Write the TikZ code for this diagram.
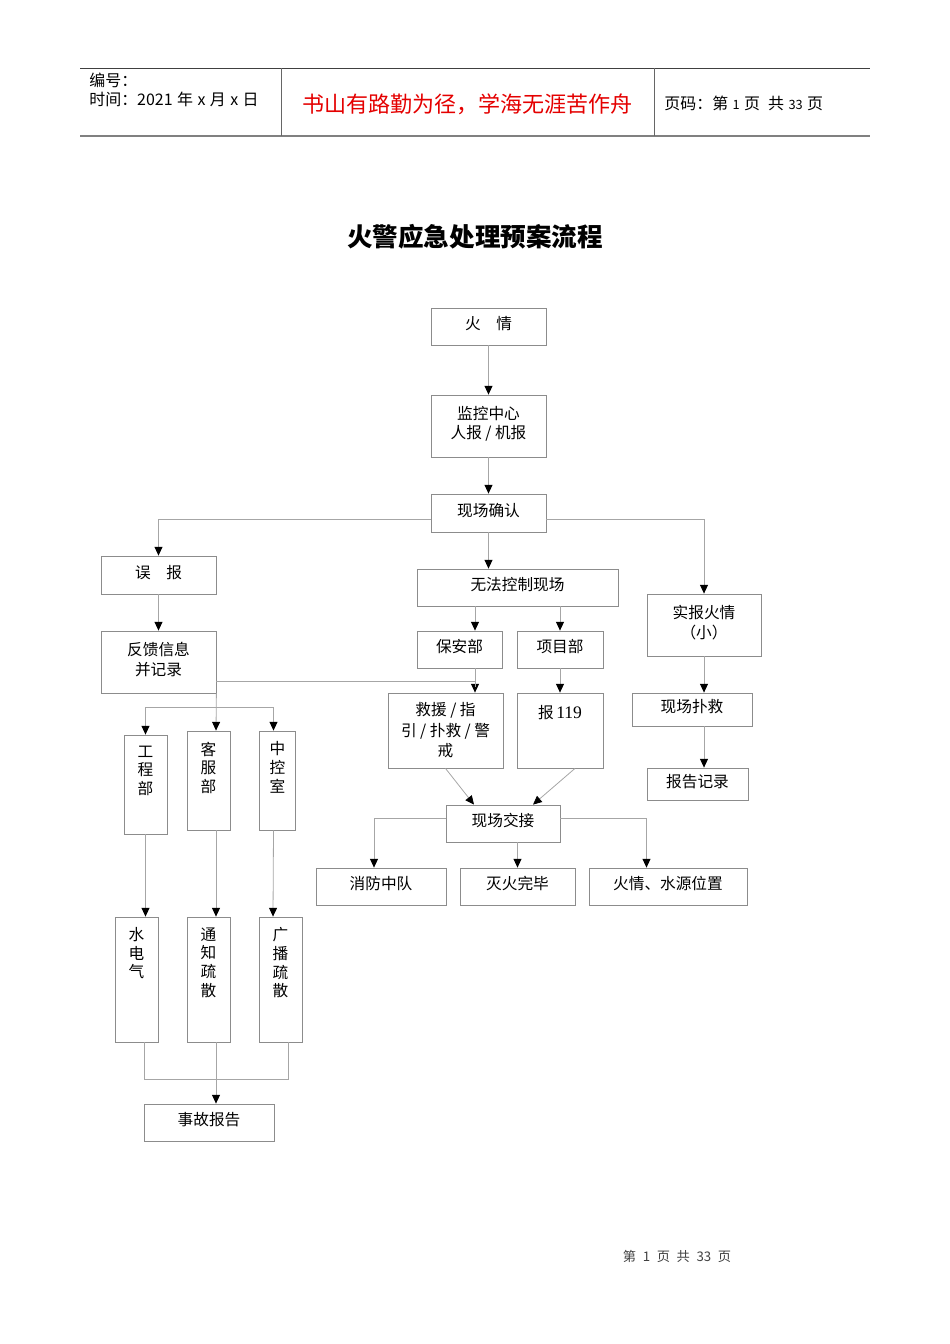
\documentclass[tikz,border=0pt]{standalone}
\usepackage{fontspec}
\setmainfont{Noto Sans CJK SC}
\newfontfamily\serifnum{Liberation Serif}
\usetikzlibrary{arrows.meta}
\definecolor{mottored}{RGB}{228,0,0}
\def\unitpx{0.626pt}

\begin{document}
\begin{tikzpicture}[x=\unitpx, y=-\unitpx,
    box/.style={draw=black!45, line width=0.5pt, align=center, inner sep=1pt,
        text depth=4pt, font=\fontsize{9.8}{12}\selectfont},
    sz/.style 2 args={minimum width=#1*\unitpx, minimum height=#2*\unitpx},
    vtext/.style={anchor=north, align=center, inner sep=0pt, yshift=-6.8pt,
        font=\fontsize{9.8}{11.6}\selectfont},
    conn/.style={draw=black!35, line width=0.5pt},
    arr/.style={conn, -{Triangle[color=black, width=5pt, length=5.5pt]}},
    head/.style={inner sep=0pt, font=\fontsize{10}{11}\selectfont}]
    \useasboundingbox (0,0) rectangle (950,1344);

    % page header
    \draw[black!75, line width=0.6pt] (80,68) -- (870,68);
    \draw[black!50, line width=1.4pt] (80,136) -- (870,136);
    \draw[black!60, line width=0.6pt] (281,68) -- (281,136);
    \draw[black!60, line width=0.6pt] (654,68) -- (654,136);
    \node[head, anchor=west] (hno) at (89,80) {编号：};
    \node[head, anchor=west] (htime) at (89,99) {时间：2021\;年\;x\;月\;x\;日};
    \node[head, text=mottored, font=\fontsize{13.8}{15}\selectfont] (motto) at (467.5,104) {书山有路勤为径，学海无涯苦作舟};
    \node[head, anchor=west] (hpage) at (664,103) {页码：第\;{\footnotesize 1}\;页\enspace 共\;{\footnotesize 33}\;页};

    \node[inner sep=0pt, font=\fontsize{16}{18}\selectfont\bfseries] (title) at (475,237) {火警应急处理预案流程};

    % boxes
    \node[box, sz={115}{37}] (fire) at (488.5,326.5) {火\quad 情};
    \node[box, sz={115}{62}] (mon) at (488.5,426) {监控中心\\人报 / 机报};
    \node[box, sz={115}{38}] (conf) at (488.5,513) {现场确认};
    \node[box, sz={115}{38}] (wrong) at (158.5,575) {误\quad 报};
    \node[box, sz={115}{62}] (feed) at (158.5,662) {反馈信息\\并记录};
    \node[box, sz={201}{37}] (ctrl) at (517.5,587.5) {无法控制现场};
    \node[box, sz={114}{62}] (real) at (704,625) {实报火情\\（小）};
    \node[box, sz={85}{37}] (bao) at (459.5,649.5) {保安部};
    \node[box, sz={86}{37}] (proj) at (560,649.5) {项目部};
    \node[box, sz={115}{75}, text depth=1pt, font=\fontsize{9.8}{12.8}\selectfont] (resc) at (445.5,730.5) {救援 / 指\\引 / 扑救 / 警\\戒};
    \node[box, sz={86}{75}, label={[vtext, yshift=-1.2pt]north:报\,{\serifnum\fontsize{11}{12}\selectfont 119}}] (r119) at (560,730.5) {};
    \node[box, sz={120}{33}] (save) at (692,709.5) {现场扑救};
    \node[box, sz={101}{32}] (rep) at (697.5,784) {报告记录};
    \node[box, sz={114}{37}] (hand) at (503,823.5) {现场交接};
    \node[box, sz={130}{37}] (fd) at (381,886.5) {消防中队};
    \node[box, sz={115}{37}] (done) at (517.5,886.5) {灭火完毕};
    \node[box, sz={158}{37}] (src) at (668,886.5) {火情、水源位置};
    \node[box, sz={43}{99}, label={[vtext]north:工\\程\\部}] (eng) at (145.5,784.5) {};
    \node[box, sz={43}{99}, label={[vtext]north:客\\服\\部}] (cs) at (208.5,780.5) {};
    \node[box, sz={36}{99}, label={[vtext]north:中\\控\\室}] (cc) at (277.5,780.5) {};
    \node[box, sz={43}{125}, label={[vtext]north:水\\电\\气}] (wat) at (136.5,979.5) {};
    \node[box, sz={43}{125}, label={[vtext]north:通\\知\\疏\\散}] (ntf) at (208.5,979.5) {};
    \node[box, sz={43}{125}, label={[vtext]north:广\\播\\疏\\散}] (brd) at (280.5,979.5) {};
    \node[box, sz={130}{37}] (acc) at (209,1122.5) {事故报告};

    % connectors
    \path[arr] (fire) edge (mon);
    \path[arr] (mon) edge (conf);
    \draw[arr] ([shift={(0,6)}]conf.west) -| (wrong.north);
    \draw[arr] ([shift={(0,6)}]conf.east) -| (real.north);
    \draw[arr] (conf.south) -- (conf.south |- ctrl.north);
    \path[arr] (wrong) edge (feed);
    \draw[arr] ([shift={(-42.5,0)}]ctrl.south) -- ([shift={(15.5,0)}]bao.north);
    \draw[arr] (ctrl.south -| proj.north) -- (proj.north);
    \path[arr] (proj) edge (r119);
    \draw[arr] ([shift={(15.5,0)}]bao.south) -- ([shift={(29.5,0)}]resc.north);
    \draw[conn] ([shift={(0,19)}]feed.east) -| ([shift={(29.5,-6)}]resc.north);
    \draw[arr] (feed.south east) -- ([shift={(7.5,0)}]cs.north);
    \draw[arr] ([shift={(0,14)}]feed.south east) -| (eng.north);
    \draw[arr] ([shift={(0,14)}]feed.south east) -| ([shift={(-4,0)}]cc.north);
    \draw[arr] (eng.south) -- (eng.south |- wat.north);
    \draw[arr] ([shift={(7.5,0)}]cs.south) -- ([shift={(7.5,0)}]ntf.north);
    \draw[arr] ([shift={(-4,0)}]cc.south) -- ([shift={(-7.5,0)}]brd.north);
    \draw[conn] ([shift={(7.5,0)}]wat.south) |- ([shift={(7.5,37)}]brd.south) -- ([shift={(7.5,0)}]brd.south);
    \draw[arr] ([shift={(7.5,0)}]ntf.south) -- ([shift={(7,0)}]acc.north);
    \draw[arr] (real.south) -- (real.south |- save.north);
    \draw[arr] (save.south -| real.south) -- (rep.north -| real.south);
    \draw[arr] (resc.south) -- ([shift={(-29,0)}]hand.north);
    \draw[arr] ([shift={(15,0)}]r119.south) -- ([shift={(30,0)}]hand.north);
    \draw[arr] ([shift={(0,-5.5)}]hand.west) -| ([shift={(-7,0)}]fd.north);
    \draw[arr] ([shift={(14.5,0)}]hand.south) -- (done.north);
    \draw[arr] ([shift={(0,-5.5)}]hand.east) -| ([shift={(-21.5,0)}]src.north);

    % page footer
    \node[inner sep=0pt, text=black!75, font=\fontsize{8.3}{9}\selectfont] (foot) at (677,1256) {第\enspace 1\enspace 页\enspace 共\enspace 33\enspace 页};
\end{tikzpicture}
\end{document}
